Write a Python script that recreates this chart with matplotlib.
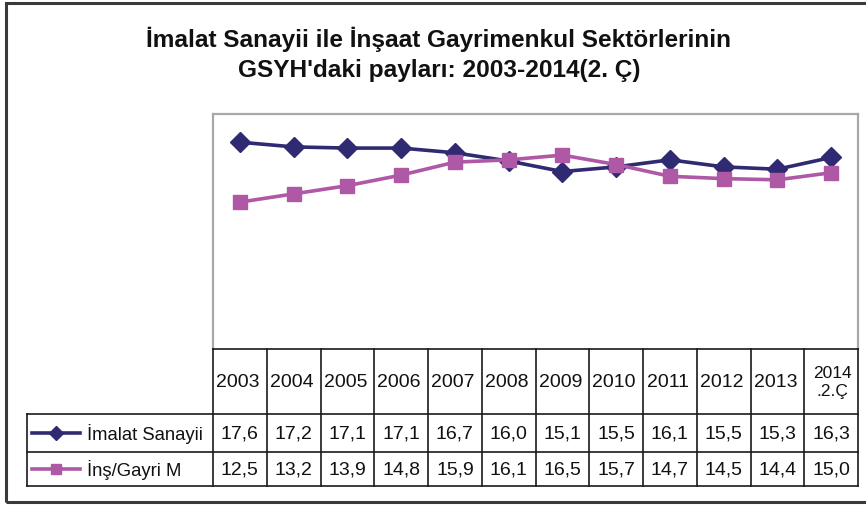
import matplotlib
matplotlib.use('Agg')
import matplotlib.pyplot as plt
from matplotlib.lines import Line2D
from matplotlib.patches import Rectangle
import matplotlib.font_manager as fm

years = ['2003', '2004', '2005', '2006', '2007', '2008', '2009', '2010',
         '2011', '2012', '2013', '2014\n.2.Ç']
imalat = [17.6, 17.2, 17.1, 17.1, 16.7, 16.0, 15.1, 15.5, 16.1, 15.5, 15.3, 16.3]
insaat = [12.5, 13.2, 13.9, 14.8, 15.9, 16.1, 16.5, 15.7, 14.7, 14.5, 14.4, 15.0]
series_names = ['İmalat Sanayii', 'İnş/Gayri M']
title_lines = ["İmalat Sanayii ile İnşaat Gayrimenkul Sektörlerinin",
               "GSYH'daki payları: 2003-2014(2. Ç)"]

navy = '#302a72'
pink = '#ae58a6'

names = {f.name for f in fm.fontManager.ttflist}
title_font = ['Liberation Sans Narrow', 'Liberation Sans', 'DejaVu Sans'] if 'Liberation Sans Narrow' in names else ['Liberation Sans', 'DejaVu Sans']
title_size = 19 if 'Liberation Sans Narrow' in names else 17.6
plt.rcParams['font.family'] = ['Liberation Sans', 'DejaVu Sans']

W, H = 866, 506
fig = plt.figure(figsize=(W / 100, H / 100), dpi=100)


def fx(px):
    return px / W


def fy(py):
    return 1 - py / H


# outer frame
fig.add_artist(Rectangle((fx(6), fy(503)), fx(880) - fx(6), fy(4) - fy(503),
                         transform=fig.transFigure, fill=False,
                         edgecolor='#3a3a3a', lw=2.2))

# title
for i, t in enumerate(title_lines):
    fig.text(fx(439), fy(39 + 32 * i), t, ha='center', va='center',
             fontsize=title_size, fontweight='bold', family=title_font, color='#111111')

ax = fig.add_axes([fx(213), fy(350), fx(858) - fx(213), fy(115) - fy(350)])
x = list(range(len(years)))
ax.plot(x, imalat, color=navy, lw=2.6, marker='D', ms=10)
ax.plot(x, insaat, color=pink, lw=2.6, marker='s', ms=9.5)
ax.set_xlim(-0.5, len(years) - 0.5)
ax.set_ylim(0, 20)
ax.set_xticks([])
ax.set_yticks([])
for s in ['top', 'left', 'right']:
    ax.spines[s].set_color('#a8a8a8')
    ax.spines[s].set_linewidth(1.6)
ax.spines['bottom'].set_visible(False)

fig.canvas.draw()


def col_px(v):
    return ax.transData.transform((v, 0))[0]


def hline(x0, x1, y):
    fig.add_artist(Line2D([fx(x0), fx(x1)], [fy(y), fy(y)], transform=fig.transFigure,
                          color='#1a1a1a', lw=1.2))


def vline(xp, y0, y1):
    fig.add_artist(Line2D([fx(xp), fx(xp)], [fy(y0), fy(y1)], transform=fig.transFigure,
                          color='#1a1a1a', lw=1.2))


left_px = 27
right_px = col_px(len(years) - 0.5)
y_head_top, y_r1, y_r2, y_bot = 350, 415, 453, 487

hline(col_px(-0.5), right_px, y_head_top)
for yy in (y_r1, y_r2, y_bot):
    hline(left_px, right_px, yy)
for i in range(len(years) + 1):
    vline(col_px(i - 0.5), y_head_top, y_bot)
vline(left_px, y_r1, y_bot)

# header
for i, yr in enumerate(years):
    if '\n' in yr:
        fig.text(fx(col_px(i) + 1), fy((y_head_top + y_r1) / 2), yr, ha='center', va='center',
                 fontsize=12.5, linespacing=1.25, color='#111111')
    else:
        fig.text(fx(col_px(i) - 2), fy((y_head_top + y_r1) / 2), yr, ha='center', va='center',
                 fontsize=14, color='#111111')

rows = [(imalat, navy, 'D'), (insaat, pink, 's')]
for r, ((vals, col, mk), name) in enumerate(zip(rows, series_names)):
    yc = ((y_r1 + y_r2) / 2) if r == 0 else ((y_r2 + y_bot) / 2)
    for i, v in enumerate(vals):
        fig.text(fx(col_px(i)), fy(yc), f"{v:.1f}".replace('.', ','), ha='center',
                 va='center', fontsize=14, color='#111111')
    fig.add_artist(Line2D([fx(32), fx(80)], [fy(yc), fy(yc)], transform=fig.transFigure,
                          color=col, lw=2.6))
    fig.add_artist(Line2D([fx(56)], [fy(yc)], transform=fig.transFigure, color=col,
                          marker=mk, ms=7.5, lw=0))
    fig.text(fx(87), fy(yc), name, ha='left', va='center', fontsize=13.3, color='#111111')

fig.savefig('out.png', dpi=100)
